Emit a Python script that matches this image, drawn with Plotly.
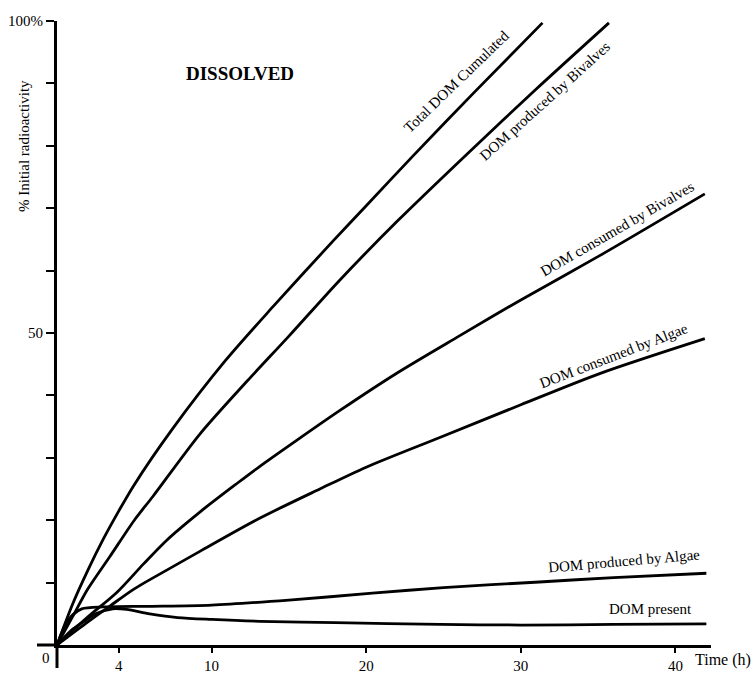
import plotly.graph_objects as go

# ---- data (time in h, % initial radioactivity) ----
total_x = [0, 1, 2, 3, 4, 5, 7.4, 10.9, 14, 17.8, 20, 23, 27, 31.4]
total_y = [0, 6.5, 12, 17, 21.5, 25.7, 34.4, 45.6, 54.3, 64.6, 70.4, 78.3, 88.6, 99.7]

prodbiv_x = [0, 1, 2, 3.4, 5, 6.2, 9.24, 12.3, 15, 18.3, 22, 26.7, 31, 35.7]
prodbiv_y = [0, 4.5, 9, 14.1, 20, 23.8, 33.8, 42.3, 49.5, 58.5, 67.9, 79.1, 89.1, 99.7]

consbiv_x = [0, 2, 3.9, 5.6, 7.1, 9.24, 11.7, 13.1, 15.5, 18.3, 22, 26, 30, 35.1, 41.9]
consbiv_y = [0, 4.5, 8.5, 13, 16.8, 21.3, 26, 28.6, 32.8, 37.6, 43.6, 49.5, 55.3, 62.4, 72.3]

consalg_x = [0, 2, 3.4, 5, 7.1, 9.24, 13.1, 17, 20, 24.8, 30, 35.1, 41.9]
consalg_y = [0, 3.7, 6.2, 9, 12.0, 15, 20.3, 25, 28.5, 33.3, 38.5, 43.5, 49.1]

prodalg_x = [0, 0.5, 1, 1.6, 3, 6, 10, 15, 20.4, 25, 31.2, 36, 42]
prodalg_y = [0, 3, 4.8, 5.8, 6.1, 6.2, 6.4, 7.2, 8.3, 9.2, 10.1, 10.8, 11.5]

present_x = [0, 1, 1.7, 2.5, 3.6, 4.5, 6, 7.8, 10, 13.1, 18, 24.8, 30, 36, 42]
present_y = [0, 2.5, 3.7, 5.0, 5.8, 5.7, 5.0, 4.4, 4.1, 3.8, 3.6, 3.3, 3.2, 3.3, 3.4]

x_ticks = [4, 10, 20, 30, 40]
y_ticks = [0, 10, 20, 30, 40, 50, 60, 70, 80, 90, 100]
y_ticktext = ["", "", "", "", "", "50", "", "", "", "", "100%"]

series = [
    ("Total DOM Cumulated", total_x, total_y),
    ("DOM produced by Bivalves", prodbiv_x, prodbiv_y),
    ("DOM consumed by Bivalves", consbiv_x, consbiv_y),
    ("DOM consumed by Algae", consalg_x, consalg_y),
    ("DOM produced by Algae", prodalg_x, prodalg_y),
    ("DOM present", present_x, present_y),
]

SERIF = "Liberation Serif, Times New Roman, serif"

fig = go.Figure()
for name, xs, ys in series:
    fig.add_trace(go.Scatter(x=xs, y=ys, mode="lines", name=name,
                             line=dict(color="black", width=2.8, shape="spline", smoothing=0.8),
                             showlegend=False, hoverinfo="skip"))

# pixel -> paper helpers (plot area: x 57..711, y 21..645)
def px_(px):
    return (px - 57) / 654.0

def py_(py):
    return (645 - py) / 624.0

def note(text, x, y, ang=0, size=15, xanchor="center"):
    fig.add_annotation(x=px_(x), y=py_(y), xref="paper", yref="paper", text=text,
                       showarrow=False, textangle=ang, xanchor=xanchor, yanchor="middle",
                       font=dict(family=SERIF, size=size, color="black"))

labels = [
    ("Total DOM Cumulated", 456, 82, -44),
    ("DOM produced by Bivalves", 545, 101, -42),
    ("DOM consumed by Bivalves", 617, 229, -30),
    ("DOM consumed by Algae", 613, 356, -21),
    ("DOM produced by Algae", 624, 561, -5),
    ("DOM present", 650, 609, 0),
]
for text, x, y, ang in labels:
    note(text, x, y, ang)

note("<b>DISSOLVED</b>", 240, 73, size=19)
note("Time (h)", 753, 660, size=16, xanchor="right")
note("0", 46, 658, size=15)
note("% Initial radioactivity", 24, 146, ang=-90, size=15)

# axis extensions beyond origin
fig.add_shape(type="line", xref="paper", yref="paper", x0=0, x1=0, y0=0, y1=py_(668),
              line=dict(color="black", width=3))
fig.add_shape(type="line", xref="paper", yref="paper", x0=px_(37), x1=0, y0=0, y1=0,
              line=dict(color="black", width=3))

fig.update_layout(
    width=755, height=673,
    margin=dict(l=57, r=44, t=21, b=28, autoexpand=False),
    plot_bgcolor="white", paper_bgcolor="white",
    font=dict(family=SERIF, size=15, color="black"),
)
fig.update_xaxes(range=[0, 42.3], showgrid=False, zeroline=False, automargin=False,
                 showline=True, linecolor="black", linewidth=3,
                 tickmode="array", tickvals=x_ticks, ticks="outside",
                 ticklen=5, tickwidth=2, tickcolor="black",
                 tickfont=dict(family=SERIF, size=15, color="black"))
fig.update_yaxes(range=[0, 100], showgrid=False, zeroline=False, automargin=False,
                 showline=True, linecolor="black", linewidth=3,
                 tickmode="array", tickvals=y_ticks, ticktext=y_ticktext,
                 ticks="outside", ticklen=8, tickwidth=2, tickcolor="black",
                 tickfont=dict(family=SERIF, size=15, color="black"))

fig.write_html("out.html", post_script="document.body.style.margin='0';",
               config={"displayModeBar": False})
